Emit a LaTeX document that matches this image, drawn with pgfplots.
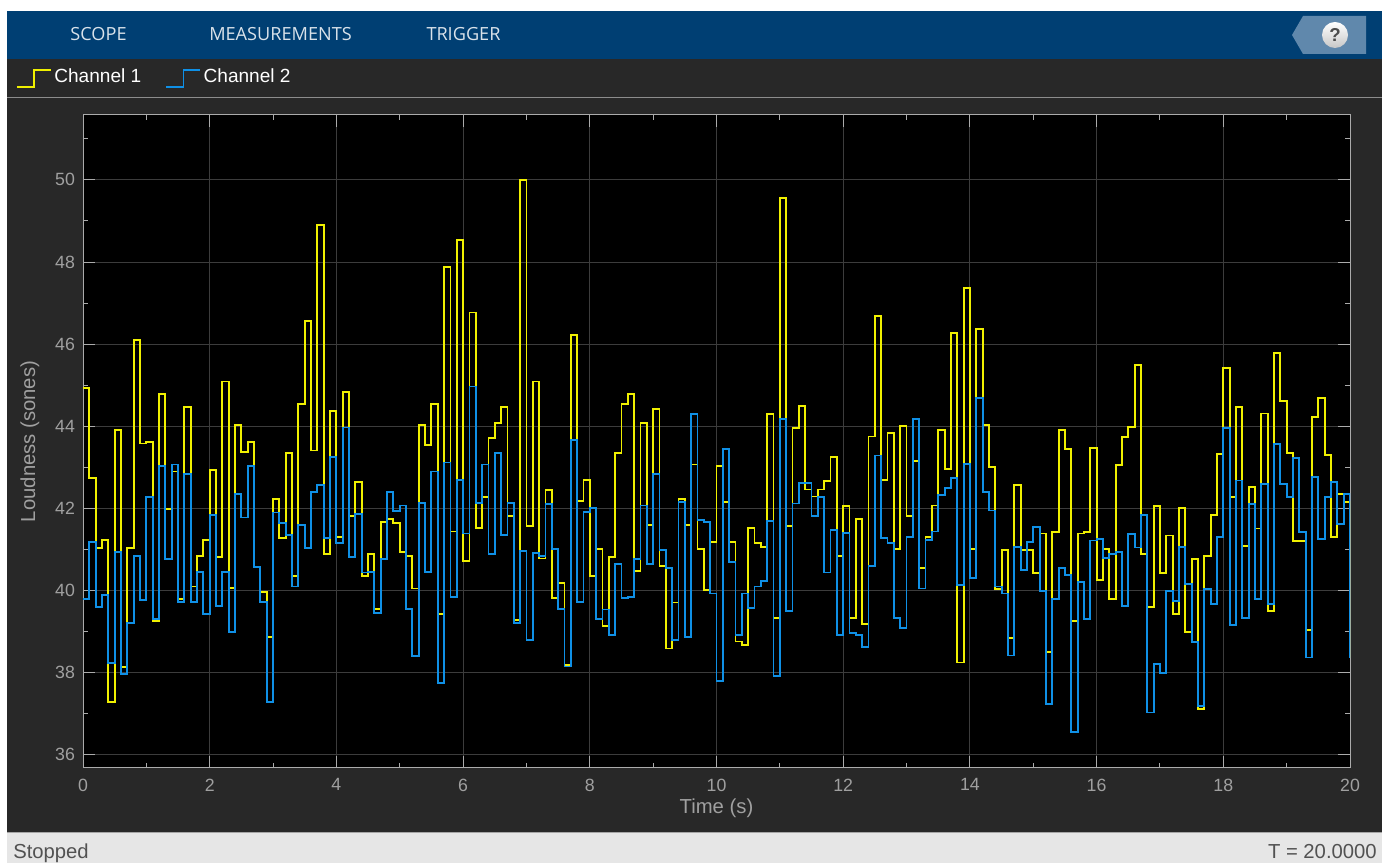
\documentclass[border=0pt]{standalone}
\usepackage{pgfplots}
\usepackage{pgfplotstable}
\usepackage{fontspec}
\setmainfont{Liberation Sans}
\newfontfamily\menufont{Open Sans}
\pgfplotsset{compat=1.18}
\definecolor{barblue}{HTML}{003F73}
\definecolor{panel}{HTML}{282828}
\definecolor{statusbg}{HTML}{E6E6E6}
\definecolor{helpbg}{HTML}{6088AC}
\definecolor{axline}{HTML}{ABABAB}
\definecolor{ticktxt}{HTML}{A0A0A0}
\definecolor{gridc}{HTML}{3C3C3C}
\definecolor{chone}{HTML}{F0F000}
\definecolor{chtwo}{HTML}{0F90E6}
\pgfplotstableread{
t ch1 ch2
0.0 44.93 39.80
0.1 42.75 41.18
0.2 41.03 39.60
0.3 41.23 39.90
0.4 37.28 38.24
0.5 43.90 40.94
0.6 38.13 37.96
0.7 41.03 39.22
0.8 46.10 40.85
0.9 43.58 39.76
1.0 43.62 42.27
1.1 39.26 39.30
1.2 44.79 43.03
1.3 41.99 40.77
1.4 42.90 43.07
1.5 39.80 39.72
1.6 44.46 42.83
1.7 40.10 39.72
1.8 40.85 40.46
1.9 41.23 39.42
2.0 42.94 41.83
2.1 40.81 39.63
2.2 45.09 40.46
2.3 40.06 39.00
2.4 44.03 42.36
2.5 43.38 41.78
2.6 43.61 43.03
2.7 40.57 40.57
2.8 39.97 39.72
2.9 38.88 37.28
3.0 42.23 41.90
3.1 41.27 41.65
3.2 43.36 41.36
3.3 40.35 40.10
3.4 44.55 41.60
3.5 46.56 41.03
3.6 43.41 42.40
3.7 48.91 42.58
3.8 40.90 41.27
3.9 44.37 43.25
4.0 41.30 41.15
4.1 44.83 43.97
4.2 41.81 40.81
4.3 42.65 41.86
4.4 40.36 40.44
4.5 40.90 40.46
4.6 39.55 39.46
4.7 41.68 40.77
4.8 41.74 42.40
4.9 41.65 41.94
5.0 40.94 42.07
5.1 40.85 39.55
5.2 40.05 38.41
5.3 44.03 42.14
5.4 43.55 40.46
5.5 44.55 42.90
5.6 39.42 37.74
5.7 47.87 43.12
5.8 41.44 39.85
5.9 48.54 42.70
6.0 40.72 41.39
6.1 46.77 44.97
6.2 41.52 42.14
6.3 42.28 43.07
6.4 43.71 40.90
6.5 44.09 43.36
6.6 44.46 41.36
6.7 41.81 42.14
6.8 39.29 39.22
6.9 50.00 40.97
7.0 41.57 38.79
7.1 45.09 40.92
7.2 40.78 40.84
7.3 42.45 42.11
7.4 39.81 41.01
7.5 40.18 39.55
7.6 38.19 38.15
7.7 46.23 43.66
7.8 42.19 39.72
7.9 42.69 41.92
8.0 40.35 42.02
8.1 41.02 39.30
8.2 39.13 39.54
8.3 40.81 38.92
8.4 43.36 40.64
8.5 44.55 39.81
8.6 44.79 39.84
8.7 40.47 40.77
8.8 44.09 42.07
8.9 41.60 40.64
9.0 44.42 42.83
9.1 40.59 40.98
9.2 38.59 40.56
9.3 39.71 38.79
9.4 42.23 42.16
9.5 41.60 38.88
9.6 43.07 44.29
9.7 41.02 41.72
9.8 40.01 41.68
9.9 41.18 39.93
10.0 43.03 37.79
10.1 42.15 43.45
10.2 41.19 40.69
10.3 38.76 38.92
10.4 38.68 39.93
10.5 41.52 39.58
10.6 41.15 40.10
10.7 41.06 40.23
10.8 44.30 41.70
10.9 39.34 37.92
11.0 49.55 44.18
11.1 41.57 39.51
11.2 43.96 42.12
11.3 44.50 42.62
11.4 42.46 42.62
11.5 42.29 41.82
11.6 42.46 42.28
11.7 42.66 40.44
11.8 43.25 41.48
11.9 40.85 38.92
12.0 42.06 41.40
12.1 39.34 38.96
12.2 41.74 38.92
12.3 39.18 38.63
12.4 43.75 40.60
12.5 46.69 43.29
12.6 42.70 41.28
12.7 43.84 41.15
12.8 41.02 39.34
12.9 44.01 39.09
13.0 41.82 41.31
13.1 43.16 44.18
13.2 40.56 40.05
13.3 41.31 41.24
13.4 42.07 41.44
13.5 43.92 42.32
13.6 42.95 42.49
13.7 46.28 42.75
13.8 38.25 40.14
13.9 47.37 43.08
14.0 41.02 40.30
14.1 46.36 44.68
14.2 44.04 42.41
14.3 43.00 41.95
14.4 40.03 40.10
14.5 40.98 39.93
14.6 38.84 38.42
14.7 42.57 41.06
14.8 40.98 40.51
14.9 40.98 41.19
15.0 40.42 41.55
15.1 41.39 40.00
15.2 38.50 37.24
15.3 41.43 39.80
15.4 43.91 40.55
15.5 43.44 40.38
15.6 39.25 36.56
15.7 41.39 40.21
15.8 41.43 39.30
15.9 43.48 41.22
16.0 40.26 41.25
16.1 41.01 40.80
16.2 39.80 40.88
16.3 43.06 40.93
16.4 43.74 39.63
16.5 43.99 41.38
16.6 45.50 41.05
16.7 40.88 41.85
16.8 39.59 37.03
16.9 42.06 38.21
17.0 40.42 38.00
17.1 41.34 40.00
17.2 39.42 39.75
17.3 42.02 41.06
17.4 39.00 40.17
17.5 40.76 38.75
17.6 37.12 37.19
17.7 40.84 40.04
17.8 41.85 39.67
17.9 43.32 41.30
18.0 45.41 43.95
18.1 42.27 39.17
18.2 44.48 42.68
18.3 41.09 39.34
18.4 42.52 42.10
18.5 41.51 39.80
18.6 44.31 42.60
18.7 39.50 39.67
18.8 45.79 43.57
18.9 44.61 42.60
19.0 43.35 42.27
19.1 41.21 43.23
19.2 41.21 41.43
19.3 39.04 38.37
19.4 44.23 42.77
19.5 44.69 41.26
19.6 43.31 42.27
19.7 41.30 42.64
19.8 42.35 41.63
19.9 42.15 42.35
20.0 38.35 38.35
}\datatable
\begin{document}
\begin{tikzpicture}
\useasboundingbox (0,0) rectangle (1036.5pt,647.25pt);
\begin{scope}[x=0.75pt,y=-0.75pt,yshift=647.25pt]
\fill[white] (0,0) rectangle (1382,863);
\fill[panel] (7,59) rectangle (1382,833);
\fill[barblue] (7,11) rectangle (1382,59);
\fill[statusbg] (7,833) rectangle (1382,863);
\draw[color=black!35,line width=0.75pt] (7,832.5) -- (1382,832.5);
\draw[color=black!45!white,line width=1pt] (7,97.5) -- (1382,97.5);
\node[anchor=base,text=white!85!barblue,font=\menufont\fontsize{13.6}{15}\selectfont] at (98.5,41) {SCOPE};
\node[anchor=base,text=white!85!barblue,font=\menufont\fontsize{13.6}{15}\selectfont] at (280.5,41) {MEASUREMENTS};
\node[anchor=base,text=white!85!barblue,font=\menufont\fontsize{13.6}{15}\selectfont] at (463.5,41) {TRIGGER};
\fill[helpbg] (1292,35) -- (1303,16) -- (1366,16) -- (1366,54) -- (1303,54) -- cycle;
\shade[top color=white,bottom color=black!22] (1335,35) circle (13);
\node[text=black!70,font=\bfseries\fontsize{14}{14}\selectfont] at (1335,35) {?};
\node[anchor=base west,inner sep=0pt,text=black!68,font=\fontsize{15.2}{17}\selectfont] at (13,859) {Stopped};
\node[anchor=base east,inner sep=0pt,text=black!68,font=\fontsize{15.2}{17}\selectfont] at (1377,859) {T = 20.0000};
\end{scope}
\begin{axis}[
  at={(62.25pt,71.25pt)},anchor=south west,
  scale only axis,width=950.25pt,height=489.75pt,
  xmin=0,xmax=20,ymin=35.68,ymax=51.58,
  axis background/.style={fill=black},
  axis line style={axline,line width=0.75pt},
  xtick={0,2,...,20},ytick={36,38,...,50},
  minor xtick={1,3,...,19},minor ytick={37,39,...,51},
  grid=major,
  major grid style={gridc,line width=0.75pt},
  tick style={axline,line width=0.75pt},
  major tick length=9pt,minor tick length=4pt,
  tick align=inside,
  ticklabel style={text=ticktxt,font=\fontsize{13.3}{14}\selectfont},
  xticklabel style={yshift=-4.5pt},
  yticklabel style={xshift=-2.5pt},
  /pgf/number format/assume math mode=true,
  xlabel={Time (s)},ylabel={Loudness (sones)},
  label style={text=ticktxt,font=\fontsize{15.2}{17}\selectfont},
  xlabel style={yshift=1.5pt},
  ylabel style={yshift=5pt},
  legend columns=2,
  legend cell align=left,
  legend style={at={(0,1)},anchor=south west,xshift=-50.5pt,yshift=20.2pt,draw=none,fill=none,
    text=white,font=\fontsize{14.3}{15}\selectfont,inner sep=0pt,
    /tikz/every even column/.append style={column sep=16pt}},
  legend image code/.code={
    \draw[#1,line width=1.3pt] (0pt,-8pt) -- (13pt,-8pt) -- (13pt,4.5pt) -- (25.5pt,4.5pt);
  },
]
\addplot[const plot,chone,line width=1.4pt] table[x=t,y=ch1] {\datatable};
\addlegendentry{Channel 1}
\addplot[const plot,chtwo,line width=1.4pt] table[x=t,y=ch2] {\datatable};
\addlegendentry{Channel 2}
\end{axis}
\end{tikzpicture}
\end{document}
